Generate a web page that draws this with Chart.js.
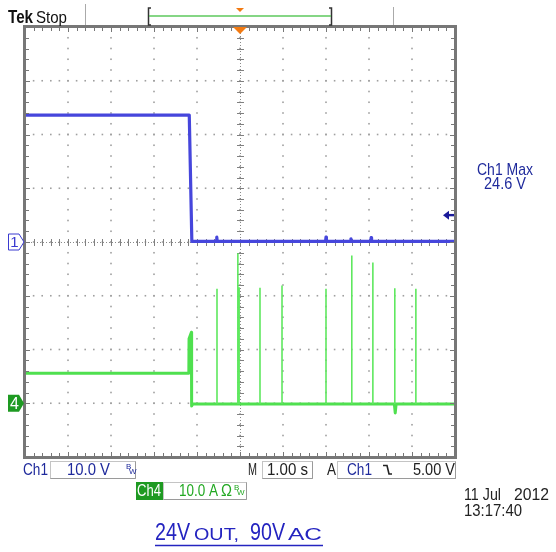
<!DOCTYPE html>
<html>
<head>
<meta charset="utf-8">
<script src="https://cdn.jsdelivr.net/npm/chart.js@4.4.1/dist/chart.umd.min.js"></script>
<style>
  html, body { margin: 0; padding: 0; background: #ffffff; }
  #wrap { position: relative; width: 556px; height: 552px; }
</style>
</head>
<body>
<div id="wrap"><canvas id="scope" width="556" height="552"></canvas></div>
<script>
// Ch1: 24 V output voltage (volts); time in seconds relative to the trigger point
const ch1Time  = [-5.0, -1.18, -1.12, -0.55, -0.54, -0.53, 1.99, 2.0, 2.01, 2.57, 2.58, 2.59, 3.04, 3.05, 3.06, 5.0];
const ch1Volts = [23.6, 23.6,  0.1,   0.1,   0.9,   0.1,   0.1,  0.9, 0.1,  0.1,  0.6,  0.1,  0.1,  0.8,  0.1,  0.1];

// Ch4: AC input current (amps), base trace
const ch4Time = [-5.0, -1.19, -1.185, -1.13, -1.125, -1.10, 3.59, 3.61, 3.63, 5.0];
const ch4Amps = [5.6,  5.6,   12.0,   13.2,  -0.5,   -0.15, -0.15, -1.8, -0.15, -0.15];

// Ch4: inrush current spikes on restart attempts
const spikeTimes = [-0.535, -0.05, -0.02, 0.465, 0.977, 2.0, 2.6, 3.09, 3.6, 4.09];
const spikeAmps  = [21.3,   27.9,  21.6,  21.5,  21.9,  21.3, 27.5, 26.2, 21.4, 21.3];

// Scope settings
const voltsPerDiv = 10.0;   // Ch1
const ampsPerDiv = 10.0;    // Ch4
const ch4GroundDiv = -3;    // Ch4 ground position, divisions from centre
const triggerLevel = 5.00;  // Ch1 falling edge trigger

const ch1Points = ch1Time.map((t, i) => ({ x: t, y: ch1Volts[i] }));
const ch4Points = ch4Time.map((t, i) => ({ x: t, y: ch4Amps[i] }));
const spikePoints = [];
spikeTimes.forEach((t, i) => {
  spikePoints.push({ x: t, y: -0.15 }, { x: t, y: spikeAmps[i] }, { x: t, y: null });
});

const BLUE_TEXT = '#1f2a9c';
const GREEN_BOX = '#1e9a22';
const GREEN_TEXT = '#22a822';
const SANS = '"Liberation Sans", Arial, sans-serif';

// draw text squeezed horizontally into a given width
function fitText(ctx, text, x, y, w) {
  const m = ctx.measureText(text).width;
  ctx.save();
  ctx.translate(x, y);
  ctx.scale(w / m, 1);
  ctx.textAlign = 'left';
  ctx.fillText(text, 0, 0);
  ctx.restore();
}

const screenPlugin = {
  id: 'scopeScreen',
  beforeDatasetsDraw(chart) {
    const { ctx, chartArea: a, scales } = chart;
    const xs = scales.x, ys = scales.yV;
    ctx.save();
    // dotted graticule: 10 x 8 divisions, 5 minor steps per division
    ctx.fillStyle = '#a0a0a0';
    for (let d = -5; d <= 5; d++) {
      const px = xs.getPixelForValue(d);
      for (let k = 0; k <= 40; k++) {
        const py = ys.getPixelForValue(-40 + k * voltsPerDiv / 5);
        ctx.fillRect(px - 0.8, py - 0.8, 1.6, 1.6);
      }
    }
    for (let d = -4; d <= 4; d++) {
      const py = ys.getPixelForValue(d * voltsPerDiv);
      for (let k = 0; k <= 50; k++) {
        const px = xs.getPixelForValue(-5 + k * 0.2);
        ctx.fillRect(px - 0.8, py - 0.8, 1.6, 1.6);
      }
    }
    // centre cross with minor ticks
    const cx = xs.getPixelForValue(0), cy = ys.getPixelForValue(0);
    ctx.strokeStyle = '#8a8a8a';
    ctx.lineWidth = 1;
    ctx.setLineDash([1, 2]);
    ctx.beginPath();
    ctx.moveTo(a.left, cy + 0.5); ctx.lineTo(a.right, cy + 0.5);
    ctx.moveTo(cx + 0.5, a.top); ctx.lineTo(cx + 0.5, a.bottom);
    ctx.stroke();
    ctx.setLineDash([]);
    ctx.strokeStyle = '#808080';
    ctx.beginPath();
    for (let k = 0; k <= 50; k++) {
      const px = Math.round(xs.getPixelForValue(-5 + k * 0.2)) + 0.5;
      ctx.moveTo(px, cy - 3); ctx.lineTo(px, cy + 4);
    }
    for (let k = 0; k <= 40; k++) {
      const py = Math.round(ys.getPixelForValue(-40 + k * 2)) + 0.5;
      ctx.moveTo(cx - 3, py); ctx.lineTo(cx + 4, py);
    }
    ctx.stroke();
    ctx.restore();
  },
  afterDatasetsDraw(chart) {
    const { ctx, chartArea: a, scales } = chart;
    const xs = scales.x, ys = scales.yV, ya = scales.yA;
    ctx.save();
    // frame with minor ticks along every edge
    ctx.strokeStyle = '#777777';
    ctx.lineWidth = 3;
    ctx.strokeRect(a.left - 0.5, a.top - 0.5, a.right - a.left + 1, a.bottom - a.top + 1);
    ctx.lineWidth = 1;
    ctx.beginPath();
    for (let k = 1; k < 50; k++) {
      const px = Math.round(xs.getPixelForValue(-5 + k * 0.2)) + 0.5;
      const len = k % 5 === 0 ? 5 : 4;
      ctx.moveTo(px, a.top); ctx.lineTo(px, a.top + len);
      ctx.moveTo(px, a.bottom); ctx.lineTo(px, a.bottom - len);
    }
    for (let k = 1; k < 40; k++) {
      const py = Math.round(ys.getPixelForValue(-40 + k * 2)) + 0.5;
      const len = k % 5 === 0 ? 5 : 4;
      ctx.moveTo(a.left, py); ctx.lineTo(a.left + len, py);
      ctx.moveTo(a.right, py); ctx.lineTo(a.right - len, py);
    }
    ctx.stroke();

    // trigger position marker at top of graticule
    const tx = xs.getPixelForValue(0);
    ctx.fillStyle = '#f27a12';
    ctx.beginPath();
    ctx.moveTo(tx - 7, a.top); ctx.lineTo(tx + 7, a.top); ctx.lineTo(tx, a.top + 7);
    ctx.closePath(); ctx.fill();

    // Ch1 ground marker
    const g1 = ys.getPixelForValue(0);
    ctx.beginPath();
    ctx.moveTo(8.5, g1 - 8); ctx.lineTo(19, g1 - 8); ctx.lineTo(24, g1); ctx.lineTo(19, g1 + 8); ctx.lineTo(8.5, g1 + 8);
    ctx.closePath();
    ctx.fillStyle = '#ffffff'; ctx.fill();
    ctx.strokeStyle = '#3a3ad0'; ctx.lineWidth = 1; ctx.stroke();
    ctx.fillStyle = '#3a3ad0';
    ctx.font = '15px ' + SANS;
    ctx.textAlign = 'center'; ctx.textBaseline = 'middle';
    ctx.fillText('1', 14.5, g1 + 1);

    // Ch4 ground marker
    const g4 = ya.getPixelForValue(0);
    ctx.beginPath();
    ctx.moveTo(8, g4 - 8.5); ctx.lineTo(19, g4 - 8.5); ctx.lineTo(24, g4); ctx.lineTo(19, g4 + 8.5); ctx.lineTo(8, g4 + 8.5);
    ctx.closePath();
    ctx.fillStyle = GREEN_BOX; ctx.fill();
    ctx.fillStyle = '#ffffff';
    ctx.font = '16px ' + SANS;
    ctx.fillText('4', 14.5, g4 + 1);

    // trigger level arrow on the right edge
    const tl = ys.getPixelForValue(triggerLevel);
    ctx.fillStyle = '#1a1a9a';
    ctx.beginPath();
    ctx.moveTo(443, tl); ctx.lineTo(449, tl - 4.5); ctx.lineTo(449, tl + 4.5);
    ctx.closePath(); ctx.fill();
    ctx.fillRect(448, tl - 1.2, 6, 2.4);

    // status bar
    ctx.textAlign = 'left'; ctx.textBaseline = 'alphabetic';
    ctx.fillStyle = '#111111';
    ctx.font = 'bold 18px ' + SANS;
    fitText(ctx, 'Tek', 8, 23, 25);
    ctx.font = '17px ' + SANS;
    fitText(ctx, 'Stop', 36, 23, 31);
    ctx.strokeStyle = '#aaaaaa'; ctx.lineWidth = 1;
    ctx.beginPath();
    ctx.moveTo(85.5, 4); ctx.lineTo(85.5, 25);
    ctx.moveTo(393.5, 7); ctx.lineTo(393.5, 25);
    ctx.stroke();
    // record window brackets
    ctx.strokeStyle = '#333333'; ctx.lineWidth = 1.5;
    ctx.beginPath();
    ctx.moveTo(151, 8); ctx.lineTo(148.5, 8); ctx.lineTo(148.5, 25); ctx.lineTo(151, 25);
    ctx.moveTo(329, 8); ctx.lineTo(331.5, 8); ctx.lineTo(331.5, 25); ctx.lineTo(329, 25);
    ctx.stroke();
    ctx.strokeStyle = '#5cc85c'; ctx.lineWidth = 1.5;
    ctx.beginPath(); ctx.moveTo(149, 16); ctx.lineTo(331, 16); ctx.stroke();
    ctx.fillStyle = '#f27a12';
    ctx.beginPath(); ctx.moveTo(236, 8); ctx.lineTo(244, 8); ctx.lineTo(240, 12); ctx.closePath(); ctx.fill();

    // measurement readout
    ctx.fillStyle = BLUE_TEXT;
    ctx.font = '17px ' + SANS;
    fitText(ctx, 'Ch1 Max', 477, 175, 56);
    fitText(ctx, '24.6 V', 484, 189, 42);

    // channel / timebase readouts
    const box = (x, y, w, h) => {
      ctx.fillStyle = '#ffffff'; ctx.fillRect(x, y, w, h);
      ctx.strokeStyle = '#c4c4c4'; ctx.lineWidth = 1;
      ctx.strokeRect(x + 0.5, y + 0.5, w, h);
      ctx.strokeStyle = '#9a9a9a';
      ctx.beginPath(); ctx.moveTo(x + 0.5, y + h + 0.5); ctx.lineTo(x + w + 0.5, y + h + 0.5); ctx.lineTo(x + w + 0.5, y + 0.5); ctx.stroke();
    };
    box(50, 461, 85, 17);
    box(262, 461, 50, 17);
    box(337, 461, 118, 17);
    box(163, 482, 83, 17);

    ctx.font = '17px ' + SANS;
    ctx.fillStyle = BLUE_TEXT;
    fitText(ctx, 'Ch1', 23, 475, 25);
    fitText(ctx, '10.0 V', 67, 475, 43);
    ctx.font = '8px ' + SANS;
    ctx.fillText('B', 126, 469);
    ctx.fillText('W', 129, 474);
    ctx.font = '17px ' + SANS;
    ctx.fillStyle = '#222222';
    fitText(ctx, 'M', 248, 475, 9);
    fitText(ctx, '1.00 s', 267, 475, 41);
    fitText(ctx, 'A', 327, 475, 9);
    ctx.fillStyle = BLUE_TEXT;
    fitText(ctx, 'Ch1', 347, 475, 25);
    ctx.fillStyle = '#222222';
    fitText(ctx, '5.00 V', 413, 475, 42);
    // falling edge symbol
    ctx.strokeStyle = '#222222'; ctx.lineWidth = 1.6;
    ctx.beginPath(); ctx.moveTo(383, 465.5); ctx.lineTo(387, 465.5); ctx.lineTo(389, 474); ctx.lineTo(392, 474); ctx.stroke();

    ctx.fillStyle = GREEN_BOX;
    ctx.fillRect(136, 482, 27, 18);
    ctx.fillStyle = '#ffffff';
    fitText(ctx, 'Ch4', 137, 496, 24);
    ctx.fillStyle = GREEN_TEXT;
    fitText(ctx, '10.0 A', 179, 496, 39);
    fitText(ctx, '\u03A9', 221, 496, 11);
    ctx.font = '8px ' + SANS;
    ctx.fillText('B', 234, 490);
    ctx.fillText('W', 237, 495);

    // acquisition date and time
    ctx.fillStyle = '#222222';
    ctx.font = '16px ' + SANS;
    fitText(ctx, '11 Jul', 464, 500, 37);
    fitText(ctx, '2012', 514, 500, 35);
    fitText(ctx, '13:17:40', 464, 516, 58);

    // test condition caption
    ctx.fillStyle = '#2424c0';
    ctx.font = '24px ' + SANS;
    fitText(ctx, '24V', 155, 540, 35);
    fitText(ctx, '90V', 250, 540, 35);
    ctx.font = '17px ' + SANS;
    fitText(ctx, 'OUT,', 194, 540, 45);
    fitText(ctx, 'AC', 288, 540, 34);
    ctx.strokeStyle = '#2424c0'; ctx.lineWidth = 1.5;
    ctx.beginPath(); ctx.moveTo(155, 545.5); ctx.lineTo(323, 545.5); ctx.stroke();

    ctx.restore();
  }
};

new Chart(document.getElementById('scope'), {
  type: 'scatter',
  data: {
    datasets: [
      { label: 'Ch4 spikes', data: spikePoints, yAxisID: 'yA', showLine: true, spanGaps: false,
        borderColor: '#5fe85f', borderWidth: 1.6, borderJoinStyle: 'round', pointRadius: 0 },
      { label: 'Ch4', data: ch4Points, yAxisID: 'yA', showLine: true,
        borderColor: '#4fe04f', borderWidth: 3, borderJoinStyle: 'round', pointRadius: 0 },
      { label: 'Ch1', data: ch1Points, yAxisID: 'yV', showLine: true,
        borderColor: '#4646dc', borderWidth: 3.2, borderJoinStyle: 'round', pointRadius: 0 }
    ]
  },
  options: {
    responsive: false,
    animation: false,
    devicePixelRatio: 1,
    layout: { padding: { left: 25, right: 101, top: 27, bottom: 95 } },
    plugins: { legend: { display: false }, tooltip: { enabled: false } },
    scales: {
      x: { type: 'linear', min: -5, max: 5, display: false },
      yV: { type: 'linear', min: -4 * voltsPerDiv, max: 4 * voltsPerDiv, display: false },
      yA: { type: 'linear', min: -(4 + ch4GroundDiv) * ampsPerDiv, max: (4 - ch4GroundDiv) * ampsPerDiv, display: false }
    }
  },
  plugins: [screenPlugin]
});
</script>
</body>
</html>
